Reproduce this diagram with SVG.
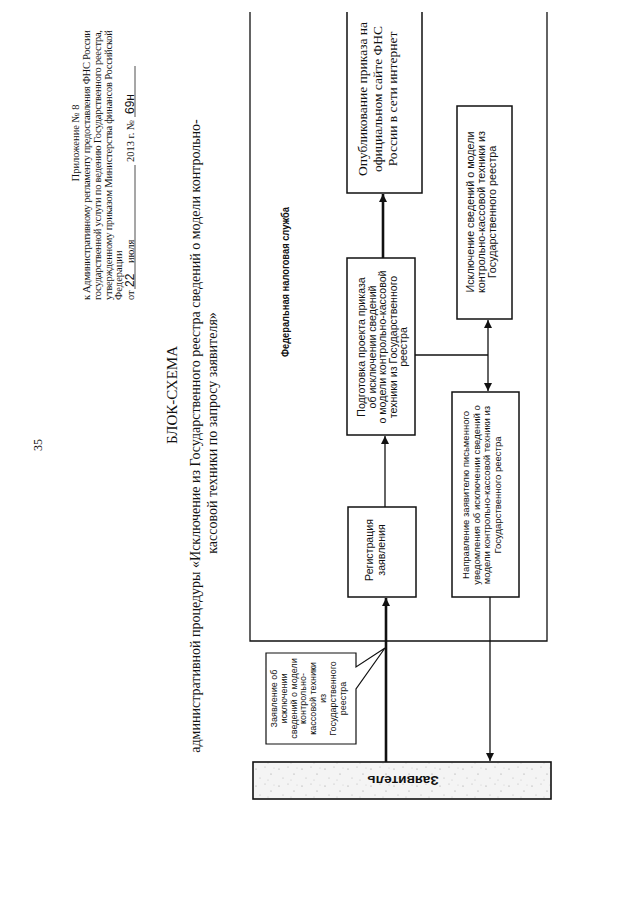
<svg xmlns="http://www.w3.org/2000/svg" width="640" height="905" viewBox="0 0 640 905">
<style>
.serif{font-family:"Liberation Serif","Times New Roman",serif;fill:#111}
.sans{font-family:"Liberation Sans",Arial,sans-serif;fill:#111}
.hdr{font-size:10.5px}
.box{fill:#fff;stroke:#111;stroke-width:1.5}
.line{fill:none;stroke:#111;stroke-width:1.3}
.thick{fill:none;stroke:#111;stroke-width:2.6}
.bt{font-size:10px}
.cl{font-size:8.5px}
</style>
<defs>
<marker id="ah" viewBox="0 0 10 10" refX="10" refY="5" markerWidth="9" markerHeight="8" markerUnits="userSpaceOnUse" orient="auto"><path d="M0,0 L10,5 L0,10 Z" fill="#111"/></marker>
<pattern id="speck" width="23" height="17" patternUnits="userSpaceOnUse">
<rect width="23" height="17" fill="#f4f4f4"/>
<circle cx="3" cy="4" r="0.6" fill="#999"/><circle cx="12" cy="2" r="0.5" fill="#aaa"/><circle cx="18" cy="9" r="0.6" fill="#999"/><circle cx="7" cy="13" r="0.5" fill="#aaa"/><circle cx="15" cy="15" r="0.5" fill="#bbb"/><circle cx="21" cy="3" r="0.4" fill="#aaa"/>
</pattern>
</defs>

<g id="page-header">
<text class="serif" font-size="12" transform="translate(42,445) rotate(-90)" text-anchor="middle">35</text>
<text class="serif hdr" transform="translate(78.5,143) rotate(-90)" text-anchor="middle">Приложение № 8</text>
<text class="serif hdr" transform="translate(89.5,300) rotate(-90)" textLength="270" lengthAdjust="spacing">к Административному регламенту предоставления ФНС России</text>
<text class="serif hdr" transform="translate(100.5,300) rotate(-90)" textLength="270" lengthAdjust="spacing">государственной услуги по ведению Государственного реестра,</text>
<text class="serif hdr" transform="translate(111.5,300) rotate(-90)" textLength="270" lengthAdjust="spacing">утвержденному приказом Министерства финансов Российской</text>
<text class="serif hdr" transform="translate(121.5,300) rotate(-90)">Федерации</text>
<text class="serif hdr" transform="translate(133.5,300) rotate(-90)">от</text>
<text class="sans" font-size="12" fill="#444" transform="translate(133.5,287) rotate(-90)">22</text>
<text class="serif hdr" transform="translate(133.5,263) rotate(-90)">июля</text>
<line x1="135" y1="289" x2="135" y2="165" stroke="#222" stroke-width="0.8"/>
<text class="serif hdr" transform="translate(133.5,162) rotate(-90)">2013 г. №</text>
<text class="sans" font-size="12" fill="#444" transform="translate(133.5,114) rotate(-90)">69н</text>
<line x1="135" y1="117" x2="135" y2="66" stroke="#222" stroke-width="0.8"/>
</g>

<g id="title">
<text class="serif" font-size="15" transform="translate(177,395) rotate(-90)" text-anchor="middle">БЛОК-СХЕМА</text>
<text class="serif" font-size="14" transform="translate(200,436) rotate(-90)" text-anchor="middle">административной процедуры «Исключение из Государственного реестра сведений о модели контрольно-</text>
<text class="serif" font-size="14" transform="translate(217,433) rotate(-90)" text-anchor="middle">кассовой техники по запросу заявителя»</text>
</g>

<g id="fns-frame">
<path class="line" d="M250,12 V641 H547 V12" stroke-width="1.4"/>
<text class="sans" font-size="11" font-weight="bold" transform="translate(289,282) rotate(-90)" text-anchor="middle" textLength="150" lengthAdjust="spacingAndGlyphs">Федеральная налоговая служба</text>
</g>

<g id="connectors">
<line class="thick" x1="383" y1="258" x2="383" y2="194" marker-end="url(#ah)"/>
<line class="line" x1="385" y1="507" x2="385" y2="436" marker-end="url(#ah)"/>
<polyline class="line" points="415,355 488,355"/>
<line class="line" x1="488" y1="355" x2="488" y2="320" marker-end="url(#ah)"/>
<line class="line" x1="488" y1="355" x2="488" y2="391" marker-end="url(#ah)"/>
<line class="thick" x1="386" y1="762" x2="386" y2="598" marker-end="url(#ah)"/>
<line class="line" x1="490" y1="597" x2="490" y2="761" stroke-width="2" marker-end="url(#ah)"/>
</g>

<g id="node-publish">
<path class="box" d="M347,12 V193 H422 V12"/>
<text class="serif" font-size="13.5" transform="translate(367,99) rotate(-90)" text-anchor="middle">Опубликование приказа на</text>
<text class="serif" font-size="13.5" transform="translate(382,99) rotate(-90)" text-anchor="middle">официальном сайте ФНС</text>
<text class="serif" font-size="13.5" transform="translate(397,99) rotate(-90)" text-anchor="middle">России в сети интернет</text>
</g>

<g id="node-exclude">
<rect class="box" x="457" y="106" width="55" height="213"/>
<text class="sans bt" transform="translate(474,212) rotate(-90) scale(1.08,1)" text-anchor="middle">Исключение сведений о модели</text>
<text class="sans bt" transform="translate(485,212) rotate(-90) scale(1.08,1)" text-anchor="middle">контрольно-кассовой техники из</text>
<text class="sans bt" transform="translate(496,212) rotate(-90) scale(1.08,1)" text-anchor="middle">Государственного реестра</text>
</g>

<g id="node-prepare">
<rect class="box" x="347" y="258" width="68" height="177"/>
<text class="sans bt" transform="translate(365,347) rotate(-90) scale(1.06,1)" text-anchor="middle">Подготовка проекта приказа</text>
<text class="sans bt" transform="translate(375.5,347) rotate(-90) scale(1.06,1)" text-anchor="middle">об исключении сведений</text>
<text class="sans bt" transform="translate(386,347) rotate(-90) scale(1.06,1)" text-anchor="middle">о модели контрольно-кассовой</text>
<text class="sans bt" transform="translate(396.5,347) rotate(-90) scale(1.06,1)" text-anchor="middle">техники из Государственного</text>
<text class="sans bt" transform="translate(407,347) rotate(-90) scale(1.06,1)" text-anchor="middle">реестра</text>
</g>

<g id="node-register">
<rect class="box" x="348" y="507" width="68" height="90"/>
<text class="sans bt" transform="translate(373,550) rotate(-90) scale(1.06,1)" text-anchor="middle">Регистрация</text>
<text class="sans bt" transform="translate(385,550) rotate(-90) scale(1.06,1)" text-anchor="middle">заявления</text>
</g>

<g id="node-notify">
<rect class="box" x="452" y="392" width="67" height="205"/>
<text class="sans" font-size="9.5" transform="translate(469,495) rotate(-90)" text-anchor="middle">Направление заявителю письменного</text>
<text class="sans" font-size="9.5" transform="translate(479.5,495) rotate(-90)" text-anchor="middle">уведомления об исключении сведений о</text>
<text class="sans" font-size="9.5" transform="translate(490,495) rotate(-90)" text-anchor="middle">модели контрольно-кассовой техники из</text>
<text class="sans" font-size="9.5" transform="translate(500.5,495) rotate(-90)" text-anchor="middle">Государственного реестра</text>
</g>

<g id="node-callout">
<path d="M356,653 H266 V744 H356 V689 L385,648 L356,667 Z" fill="#fff" stroke="#111" stroke-width="1.2"/>
<text class="sans cl" transform="translate(277,698.5) rotate(-90) scale(1.06,1)" text-anchor="middle">Заявление об</text>
<text class="sans cl" transform="translate(287,698.5) rotate(-90) scale(1.06,1)" text-anchor="middle">исключении</text>
<text class="sans cl" transform="translate(297,698.5) rotate(-90) scale(1.06,1)" text-anchor="middle">сведений о модели</text>
<text class="sans cl" transform="translate(306,698.5) rotate(-90) scale(1.06,1)" text-anchor="middle">контрольно-</text>
<text class="sans cl" transform="translate(316,698.5) rotate(-90) scale(1.06,1)" text-anchor="middle">кассовой техники</text>
<text class="sans cl" transform="translate(326,698.5) rotate(-90) scale(1.06,1)" text-anchor="middle">из</text>
<text class="sans cl" transform="translate(336,698.5) rotate(-90) scale(1.06,1)" text-anchor="middle">Государственного</text>
<text class="sans cl" transform="translate(346,698.5) rotate(-90) scale(1.06,1)" text-anchor="middle">реестра</text>
</g>

<g id="node-applicant">
<rect x="253" y="762" width="298" height="37" fill="url(#speck)" stroke="#111" stroke-width="1.6"/>
<text class="sans" font-size="13.5" font-weight="bold" transform="translate(403,776) rotate(180)" text-anchor="middle">Заявитель</text>
</g>
</svg>
